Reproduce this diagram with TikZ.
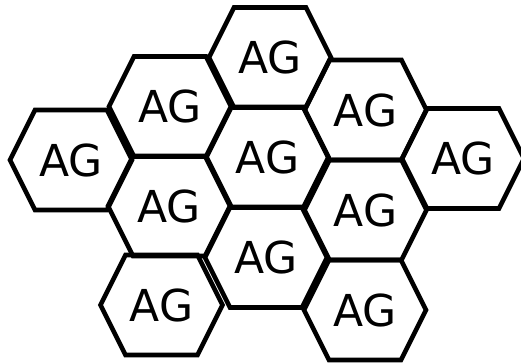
\documentclass[tikz,border=0pt]{standalone}
\usepackage{fontspec}
\setmainfont{DejaVu Sans}
\tikzset{
  agcell/.style={font=\fontsize{44}{44}\selectfont, inner sep=0pt},
  hexedge/.style={line width=4.6pt, line join=miter}
}
\newcommand\hexcell[3]{%
  \node[agcell] (#1) at (#2,#3) {AG};
  \draw[hexedge] (#1.center) ++(-61,0) -- ++(25,-50) -- ++(72,0) -- ++(25,50) -- ++(-25,50) -- ++(-72,0) -- cycle;
}
\begin{document}
\begin{tikzpicture}[x=1pt,y=-1pt]
\useasboundingbox (0,0) rectangle (521,363);
\hexcell{hl}{71}{160}
\hexcell{hul}{170}{106.5}
\hexcell{ht}{270}{57.5}
\hexcell{hur}{365.5}{110}
\hexcell{hr}{463}{158.5}
\hexcell{hc}{267.5}{157}
\hexcell{hml}{169}{206}
\hexcell{hmr}{365.5}{210}
\hexcell{hbl}{161.5}{305}
\hexcell{hbc}{266}{257.5}
\hexcell{hbr}{365}{310}
\end{tikzpicture}
\end{document}
